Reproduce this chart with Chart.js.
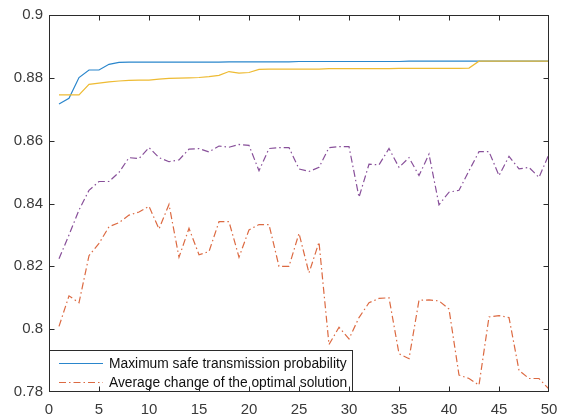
<!DOCTYPE html>
<html>
<head>
<meta charset="utf-8">
<script src="https://cdn.jsdelivr.net/npm/chart.js@4/dist/chart.umd.min.js"></script>
<style>
  html, body { margin: 0; padding: 0; background: #ffffff; }
  #c { display: block; }
</style>
</head>
<body>
<canvas id="c" width="567" height="420"></canvas>
<script>
// Iteration index (x axis)
const iterations = [1,2,3,4,5,6,7,8,9,10,11,12,13,14,15,16,17,18,19,20,21,22,23,24,25,26,27,28,29,30,31,32,33,34,35,36,37,38,39,40,41,42,43,44,45,46,47,48,49,50];

// Maximum safe transmission probability
const maxSafeProb = [0.8717,0.8735,0.8801,0.8825,0.8825,0.8843,0.8849,0.8850,0.8850,0.8850,
                     0.8850,0.8850,0.8850,0.8850,0.8850,0.8850,0.8850,0.8851,0.8851,0.8851,
                     0.8851,0.8851,0.8851,0.8851,0.8852,0.8852,0.8852,0.8852,0.8852,0.8852,
                     0.8852,0.8852,0.8852,0.8852,0.8852,0.8853,0.8853,0.8853,0.8853,0.8853,
                     0.8853,0.8853,0.8853,0.8853,0.8853,0.8853,0.8853,0.8853,0.8853,0.8853];

// Average change of the optimal solution
const avgChange = [0.8009,0.8106,0.8084,0.8234,0.8273,0.8326,0.8339,0.8363,0.8373,0.8391,
                   0.8319,0.8397,0.8229,0.8321,0.8237,0.8247,0.8342,0.8342,0.8229,0.8316,
                   0.8333,0.8333,0.8200,0.8200,0.8305,0.8179,0.8277,0.7951,0.8006,0.7969,
                   0.8037,0.8084,0.8098,0.8100,0.7922,0.7906,0.8092,0.8093,0.8090,0.8064,
                   0.7854,0.7843,0.7822,0.8039,0.8043,0.8037,0.7869,0.7843,0.7843,0.7809];

// Third series (solid, yellow)
const series3 = [0.8746,0.8746,0.8746,0.8779,0.8783,0.8787,0.8790,0.8792,0.8793,0.8793,
                 0.8796,0.8798,0.8799,0.8800,0.8801,0.8804,0.8808,0.8820,0.8815,0.8817,
                 0.8827,0.8828,0.8828,0.8828,0.8828,0.8828,0.8828,0.8829,0.8829,0.8829,
                 0.8829,0.8829,0.8829,0.8829,0.8830,0.8830,0.8830,0.8830,0.8830,0.8830,
                 0.8830,0.8831,0.8853,0.8853,0.8853,0.8853,0.8853,0.8853,0.8853,0.8853];

// Fourth series (dash-dot, purple)
const series4 = [0.8224,0.8300,0.8379,0.8442,0.8470,0.8470,0.8499,0.8546,0.8543,0.8578,
                 0.8546,0.8533,0.8539,0.8573,0.8575,0.8564,0.8583,0.8579,0.8588,0.8585,
                 0.8504,0.8575,0.8578,0.8578,0.8510,0.8502,0.8515,0.8578,0.8581,0.8581,
                 0.8420,0.8525,0.8523,0.8575,0.8515,0.8546,0.8489,0.8557,0.8396,0.8436,
                 0.8442,0.8504,0.8565,0.8565,0.8489,0.8550,0.8510,0.8515,0.8483,0.8557];

// Axis ticks
const xTicks = [0,5,10,15,20,25,30,35,40,45,50];
const yTicks = [0.78,0.8,0.82,0.84,0.86,0.88,0.9];

const legendLabels = ['Maximum safe transmission probability', 'Average change of the optimal solution'];

const AXIS = '#2b2b2b';
const LABEL = '#3a3a3a';
const FONT = '"Liberation Sans", Arial, Helvetica, sans-serif';
const DASHDOT = [7, 3, 1.5, 3];

function pts(ys) { return iterations.map((x, i) => ({ x: x, y: ys[i] })); }

// Draws the MATLAB-style box with inward ticks, plus the legend box
const boxPlugin = {
  id: 'matlabBox',
  afterDraw(chart) {
    const ctx = chart.ctx;
    const a = chart.chartArea;
    const xs = chart.scales.x, ys = chart.scales.y;
    const L = Math.round(a.left) + 0.5, R = Math.round(a.right) - 0.5;
    const T = Math.round(a.top) + 0.5, B = Math.round(a.bottom) - 0.5;

    // legend
    const ds = chart.data.datasets;
    const lgL = L, lgR = 352.5, lgT = 350.5, lgB = B;
    ctx.save();
    ctx.fillStyle = '#ffffff';
    ctx.fillRect(lgL, lgT, lgR - lgL, lgB - lgT);
    ctx.strokeStyle = AXIS;
    ctx.lineWidth = 1;
    ctx.strokeRect(lgL, lgT, lgR - lgL, lgB - lgT);
    ctx.font = '13.8px ' + FONT;
    ctx.textBaseline = 'middle';
    ctx.textAlign = 'left';
    const rows = [363, 382];
    for (let i = 0; i < 2; i++) {
      const d = ds[i];
      ctx.beginPath();
      ctx.setLineDash(d.borderDash || []);
      ctx.strokeStyle = d.borderColor;
      ctx.lineWidth = d.borderWidth;
      ctx.moveTo(59, rows[i] + 0.5);
      ctx.lineTo(103, rows[i] + 0.5);
      ctx.stroke();
      ctx.setLineDash([]);
      ctx.fillStyle = '#111111';
      ctx.fillText(d.label, 109, rows[i] + 1);
    }
    ctx.restore();

    // axes box
    ctx.save();
    ctx.strokeStyle = AXIS;
    ctx.lineWidth = 1;
    ctx.strokeRect(L, T, R - L, B - T);
    const tl = 5;
    ctx.beginPath();
    xTicks.forEach(v => {
      const px = Math.round(xs.getPixelForValue(v)) + 0.5;
      if (px <= L + 1 || px >= R - 1) return;
      ctx.moveTo(px, B); ctx.lineTo(px, B - tl);
      ctx.moveTo(px, T); ctx.lineTo(px, T + tl);
    });
    yTicks.forEach(v => {
      const py = Math.round(ys.getPixelForValue(v)) + 0.5;
      if (py <= T + 1 || py >= B - 1) return;
      ctx.moveTo(L, py); ctx.lineTo(L + tl, py);
      ctx.moveTo(R, py); ctx.lineTo(R - tl, py);
    });
    ctx.stroke();
    ctx.restore();
  }
};

new Chart(document.getElementById('c'), {
  type: 'line',
  data: {
    datasets: [
      { label: legendLabels[0], data: pts(maxSafeProb), borderColor: '#2a86cc', borderWidth: 1.2, order: 3 },
      { label: legendLabels[1], data: pts(avgChange), borderColor: '#dc6a42', borderWidth: 1.2, borderDash: DASHDOT, order: 2 },
      { label: 'data3', data: pts(series3), borderColor: '#eebb33', borderWidth: 1.2, order: 1 },
      { label: 'data4', data: pts(series4), borderColor: '#88509a', borderWidth: 1.2, borderDash: DASHDOT, order: 0 }
    ]
  },
  options: {
    responsive: false,
    animation: false,
    devicePixelRatio: 1,
    layout: { padding: { top: 11, right: 18, left: 0, bottom: 0 } },
    elements: {
      point: { radius: 0, hoverRadius: 0 },
      line: { tension: 0, fill: false, borderCapStyle: 'butt' }
    },
    plugins: {
      legend: { display: false },
      tooltip: { enabled: false }
    },
    scales: {
      x: {
        type: 'linear',
        min: 0, max: 50,
        afterFit(s) { s.height = 28; },
        afterBuildTicks(s) { s.ticks = xTicks.map(v => ({ value: v })); },
        grid: { display: false, drawTicks: false },
        border: { display: false },
        ticks: {
          color: LABEL, padding: 9, maxRotation: 0, autoSkip: false,
          font: { family: FONT, size: 15 },
          callback: v => String(v)
        }
      },
      y: {
        type: 'linear',
        min: 0.78, max: 0.9,
        afterFit(s) { s.width = 49; },
        afterBuildTicks(s) { s.ticks = yTicks.map(v => ({ value: v })); },
        grid: { display: false, drawTicks: false },
        border: { display: false },
        ticks: {
          color: LABEL, padding: 6, autoSkip: false,
          font: { family: FONT, size: 15 },
          callback: v => String(+(+v).toFixed(2))
        }
      }
    }
  },
  plugins: [boxPlugin]
});
</script>
</body>
</html>
